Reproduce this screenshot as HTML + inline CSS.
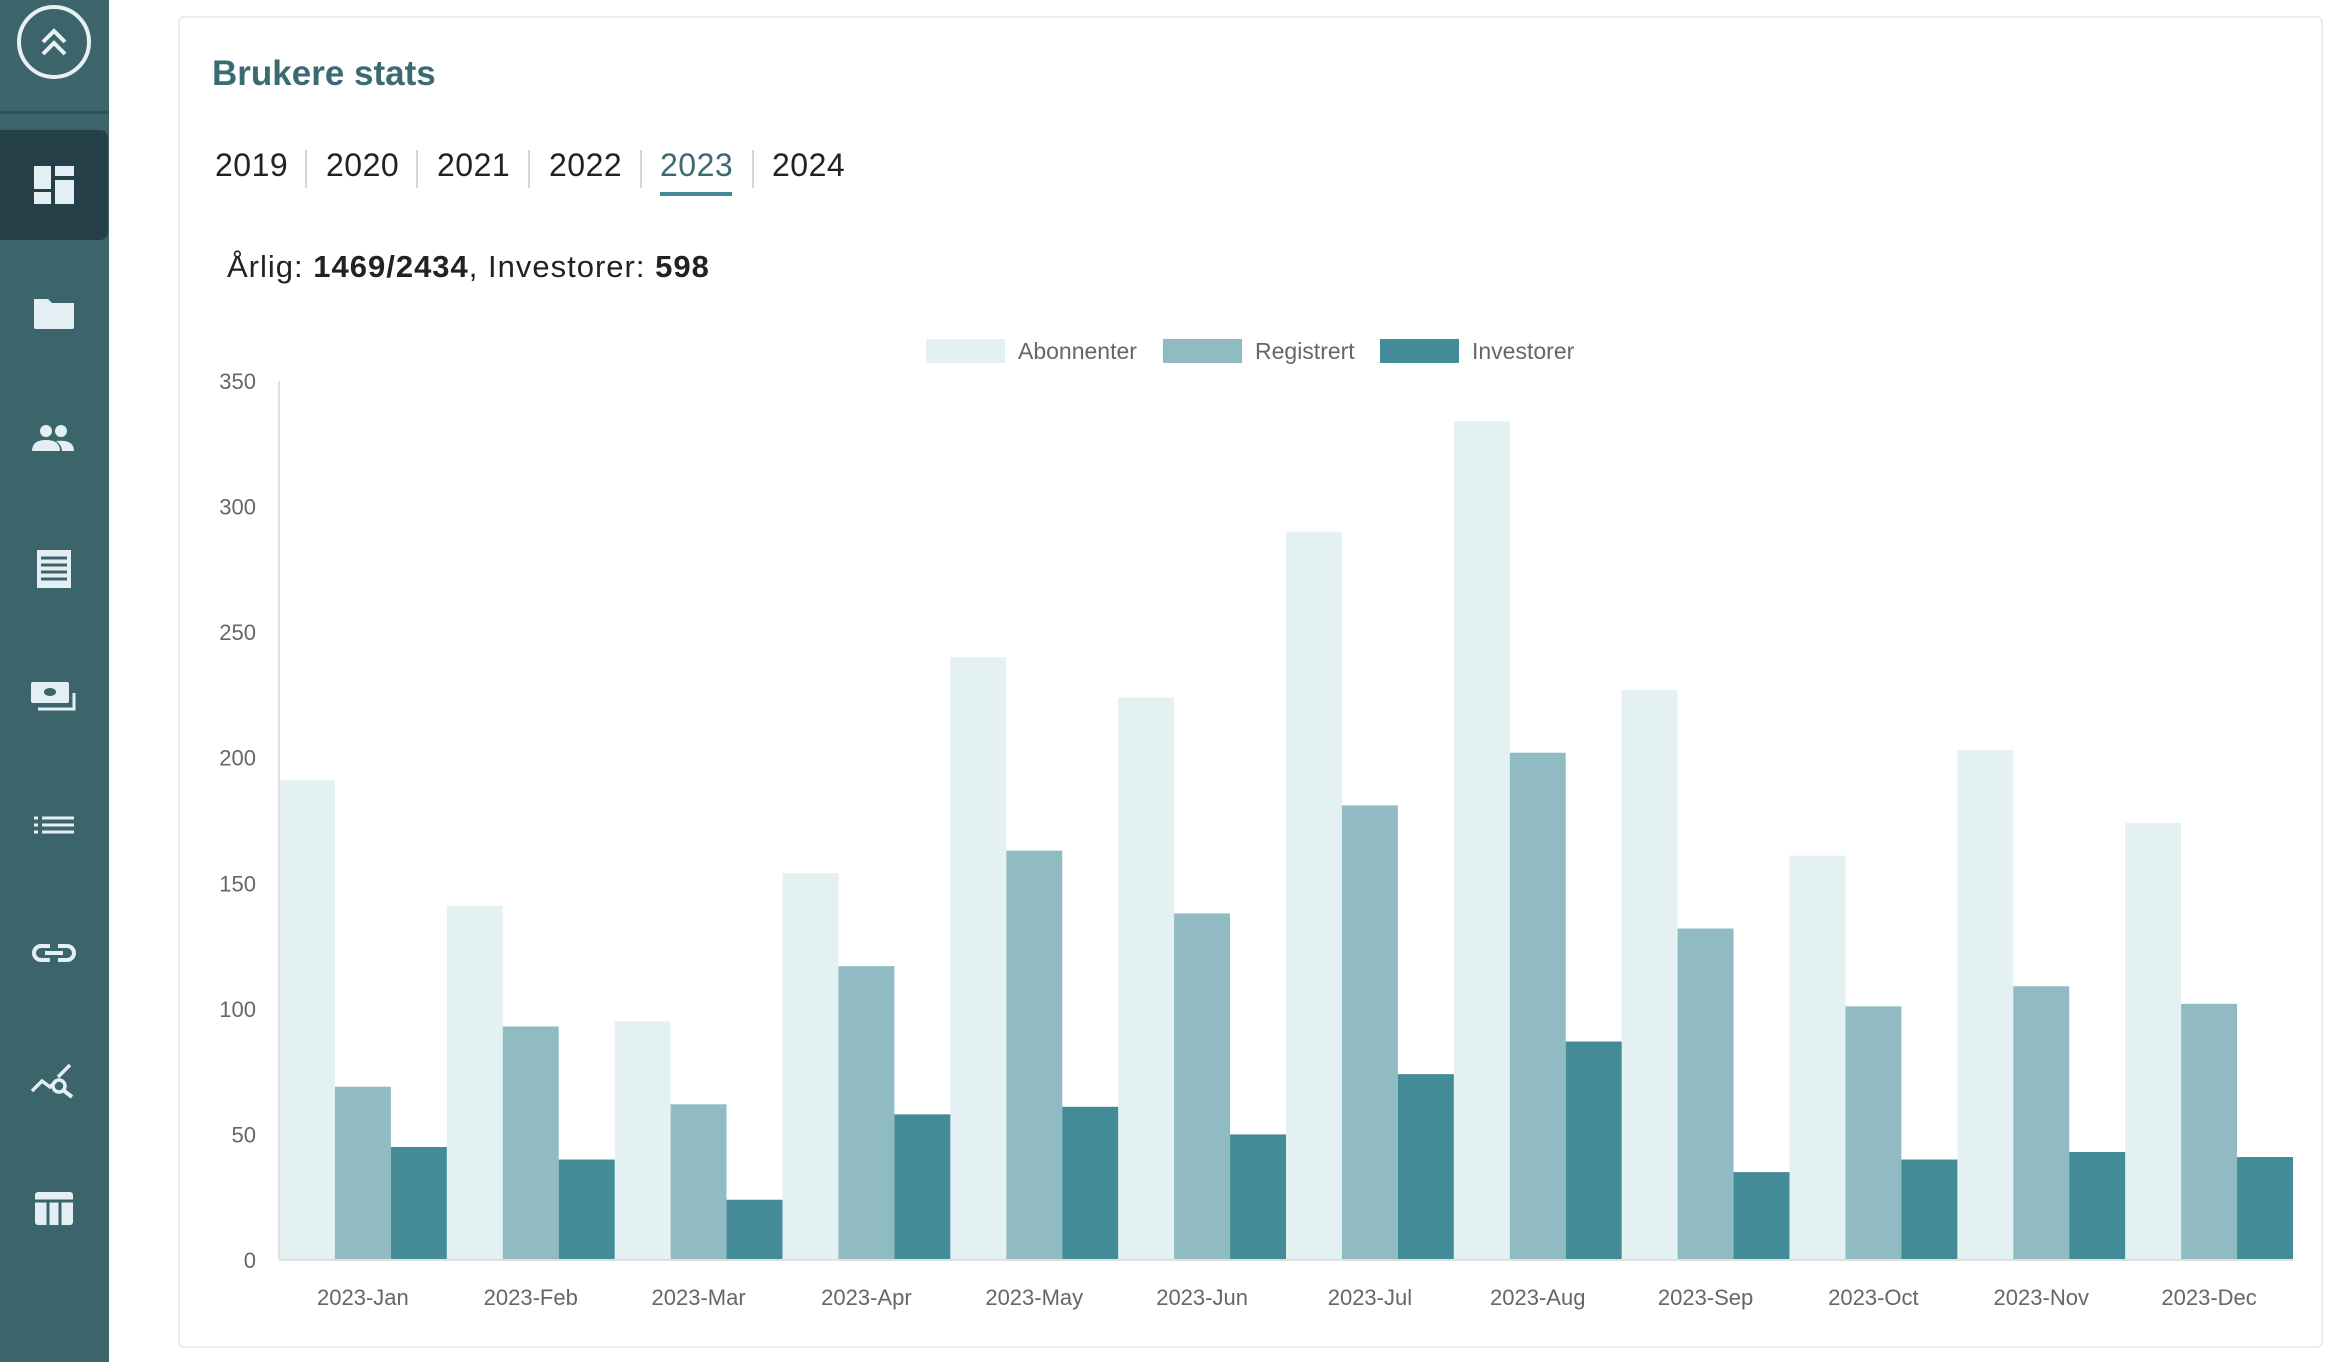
<!DOCTYPE html>
<html><head><meta charset="utf-8"><style>
html,body{margin:0;padding:0;width:2330px;height:1362px;background:#fff;overflow:hidden;font-family:"Liberation Sans",sans-serif}
#sidebar{position:absolute;left:0;top:0;width:109px;height:1362px;background:#3c646b}
#sidebar .top{position:absolute;left:0;top:0;width:109px;height:111px;border-bottom:3px solid #2f5158}
#sidebar .active{position:absolute;left:0;top:130px;width:108px;height:110px;background:#264049;border-radius:0 8px 8px 0}
.ic{position:absolute;left:26px;width:56px;height:56px}
#card{position:absolute;left:178px;top:16px;width:2145px;height:1332px;border:2px solid #ececec;border-radius:6px;box-sizing:border-box;background:#fff}
#title{position:absolute;left:212px;top:54px;font-size:35px;font-weight:bold;color:#3a6a72;margin:0}
.yr{position:absolute;top:147px;font-size:32px;color:#222;letter-spacing:0.5px}
.sep{position:absolute;top:150px;width:2px;height:38px;background:#d6d6d6}
#summary{position:absolute;left:227px;top:249px;font-size:31px;color:#222;letter-spacing:1px}
</style></head><body>
<div id="sidebar">
 <div class="top"></div>
 <svg class="ic" style="top:0px;left:12px;width:84px;height:84px" viewBox="0 0 84 84"><circle cx="42" cy="42" r="35" fill="none" stroke="#e7f1f3" stroke-width="4"/><path d="M31 42 L42 31 L53 42 M31 54 L42 43 L53 54" fill="none" stroke="#e7f1f3" stroke-width="4"/></svg>
 <div class="active"></div>
 <svg class="ic" style="top:157px" viewBox="0 0 56 56"><rect x="8" y="9" width="17" height="23" fill="#e3eff3"/><rect x="29" y="9" width="19" height="10" fill="#e3eff3"/><rect x="8" y="35" width="17" height="12" fill="#e3eff3"/><rect x="29" y="23" width="19" height="24" fill="#e3eff3"/></svg>
 <svg class="ic" style="top:285px" viewBox="0 0 56 56"><path d="M8 14 h14 l4 4 h22 v24 a2 2 0 0 1 -2 2 h-36 a2 2 0 0 1 -2 -2z" fill="#e3eff3"/></svg>
 <svg class="ic" style="top:413px" viewBox="0 0 56 56"><circle cx="20" cy="18" r="6" fill="#e3eff3"/><circle cx="35" cy="18" r="6" fill="#e3eff3"/><path d="M6 38 q0 -11 14 -11 q14 0 14 11z M30 28 q18 -2 18 10 h-12 q0 -6 -6 -10z" fill="#e3eff3"/></svg>
 <svg class="ic" style="top:541px" viewBox="0 0 56 56"><rect x="11" y="9" width="34" height="38" fill="#e3eff3"/><path d="M15 17h26M15 24h26M15 31h26M15 38h26" stroke="#3c646b" stroke-width="3"/></svg>
 <svg class="ic" style="top:669px" viewBox="0 0 56 56"><rect x="5" y="13" width="38" height="21" rx="2" fill="#e3eff3"/><ellipse cx="24" cy="23" rx="6" ry="4" fill="#3c646b"/><path d="M12 40h36v-16" fill="none" stroke="#e3eff3" stroke-width="3"/></svg>
 <svg class="ic" style="top:797px" viewBox="0 0 56 56"><path d="M8 21h4M8 28h4M8 35h4M16 21h32M16 28h32M16 35h32" stroke="#e3eff3" stroke-width="3"/></svg>
 <svg class="ic" style="top:925px" viewBox="0 0 56 56"><path d="M24 21h-9a7 7 0 0 0 0 14h9M32 21h9a7 7 0 0 1 0 14h-9M19 28h18" fill="none" stroke="#e3eff3" stroke-width="4"/></svg>
 <svg class="ic" style="top:1053px" viewBox="0 0 56 56"><path d="M6 38 l10 -10 l8 6 l6 -6 M32 24 l12 -12" fill="none" stroke="#e3eff3" stroke-width="3.5"/><circle cx="33" cy="33" r="6" fill="none" stroke="#e3eff3" stroke-width="3.5"/><path d="M37 37 l9 7" stroke="#e3eff3" stroke-width="4"/></svg>
 <svg class="ic" style="top:1181px" viewBox="0 0 56 56"><rect x="9" y="11" width="38" height="33" rx="3" fill="#e3eff3"/><path d="M9 20h38M22 20v24M34 20v24" stroke="#3c646b" stroke-width="3"/></svg>
</div>
<div id="card"></div>
<h2 id="title">Brukere stats</h2>
<div class="yr" style="left:215px">2019</div>
<div class="sep" style="left:305px"></div>
<div class="yr" style="left:326px">2020</div>
<div class="sep" style="left:416px"></div>
<div class="yr" style="left:437px">2021</div>
<div class="sep" style="left:528px"></div>
<div class="yr" style="left:549px">2022</div>
<div class="sep" style="left:640px"></div>
<div class="yr" style="left:660px;color:#3a6a72">2023</div>
<div style="position:absolute;left:660px;top:192px;width:72px;height:4px;background:#43899a"></div>
<div class="sep" style="left:752px"></div>
<div class="yr" style="left:772px">2024</div>
<div id="summary">Årlig: <b>1469/2434</b>, Investorer: <b>598</b></div>
<svg id="chart" width="2330" height="1362" style="position:absolute;left:0;top:0"></svg>
<script>
const categories=["2023-Jan","2023-Feb","2023-Mar","2023-Apr","2023-May","2023-Jun","2023-Jul","2023-Aug","2023-Sep","2023-Oct","2023-Nov","2023-Dec"];
const abonnenter=[191,141,95,154,240,224,290,334,227,161,203,174];
const registrert=[69,93,62,117,163,138,181,202,132,101,109,102];
const investorer=[45,40,24,58,61,50,74,87,35,40,43,41];
const yTicks=[0,50,100,150,200,250,300,350];
const seriesNames=["Abonnenter","Registrert","Investorer"];
const colors=["#e3f1f2","#91bbc2","#448b98"];
const NS="http://www.w3.org/2000/svg";
const svg=document.getElementById('chart');
const X0=279,X1=2293,Y0=1260,Y1=381,YMAX=350;
const y=v=>Y0-(v/YMAX)*(Y0-Y1);
const gw=(X1-X0)/categories.length;
const x=i=>X0+i*gw;
function mk(t,a){const e=document.createElementNS(NS,t);for(const k in a)e.setAttribute(k,a[k]);svg.appendChild(e);return e;}
yTicks.forEach(v=>{
 const t=mk('text',{x:256,y:y(v)+8,'text-anchor':'end','font-size':22,fill:'#666','font-family':'Liberation Sans, sans-serif'});
 t.textContent=v;
 
 
});
const series=[abonnenter,registrert,investorer];
const bw=gw/3;
series.forEach((s,si)=>{
 s.forEach((v,i)=>{
  const r=mk('rect',{x:x(i)+si*bw,y:y(v),width:bw,height:Y0-y(v),fill:colors[si]});
  
  
 });
});
const ax=mk('line',{x1:X0,y1:Y1,x2:X0,y2:Y0,stroke:'#e0e0e0','stroke-width':2});


const bx=mk('line',{x1:X0,y1:Y0,x2:X1,y2:Y0,stroke:'#e0e0e0','stroke-width':2});


categories.forEach((c,i)=>{
 const t=mk('text',{x:x(i)+gw/2,y:1305,'text-anchor':'middle','font-size':22,fill:'#666','font-family':'Liberation Sans, sans-serif'});
 t.textContent=c;
 
 
});
const legX=[926,1163,1380];
seriesNames.forEach((n,i)=>{
 const r=mk('rect',{x:legX[i],y:339,width:79,height:24,fill:colors[i]});
 
 
 const t=mk('text',{x:legX[i]+92,y:359,'font-size':23,fill:'#666','font-family':'Liberation Sans, sans-serif'});
 t.textContent=n;
 
 
});
</script>
</body></html>
